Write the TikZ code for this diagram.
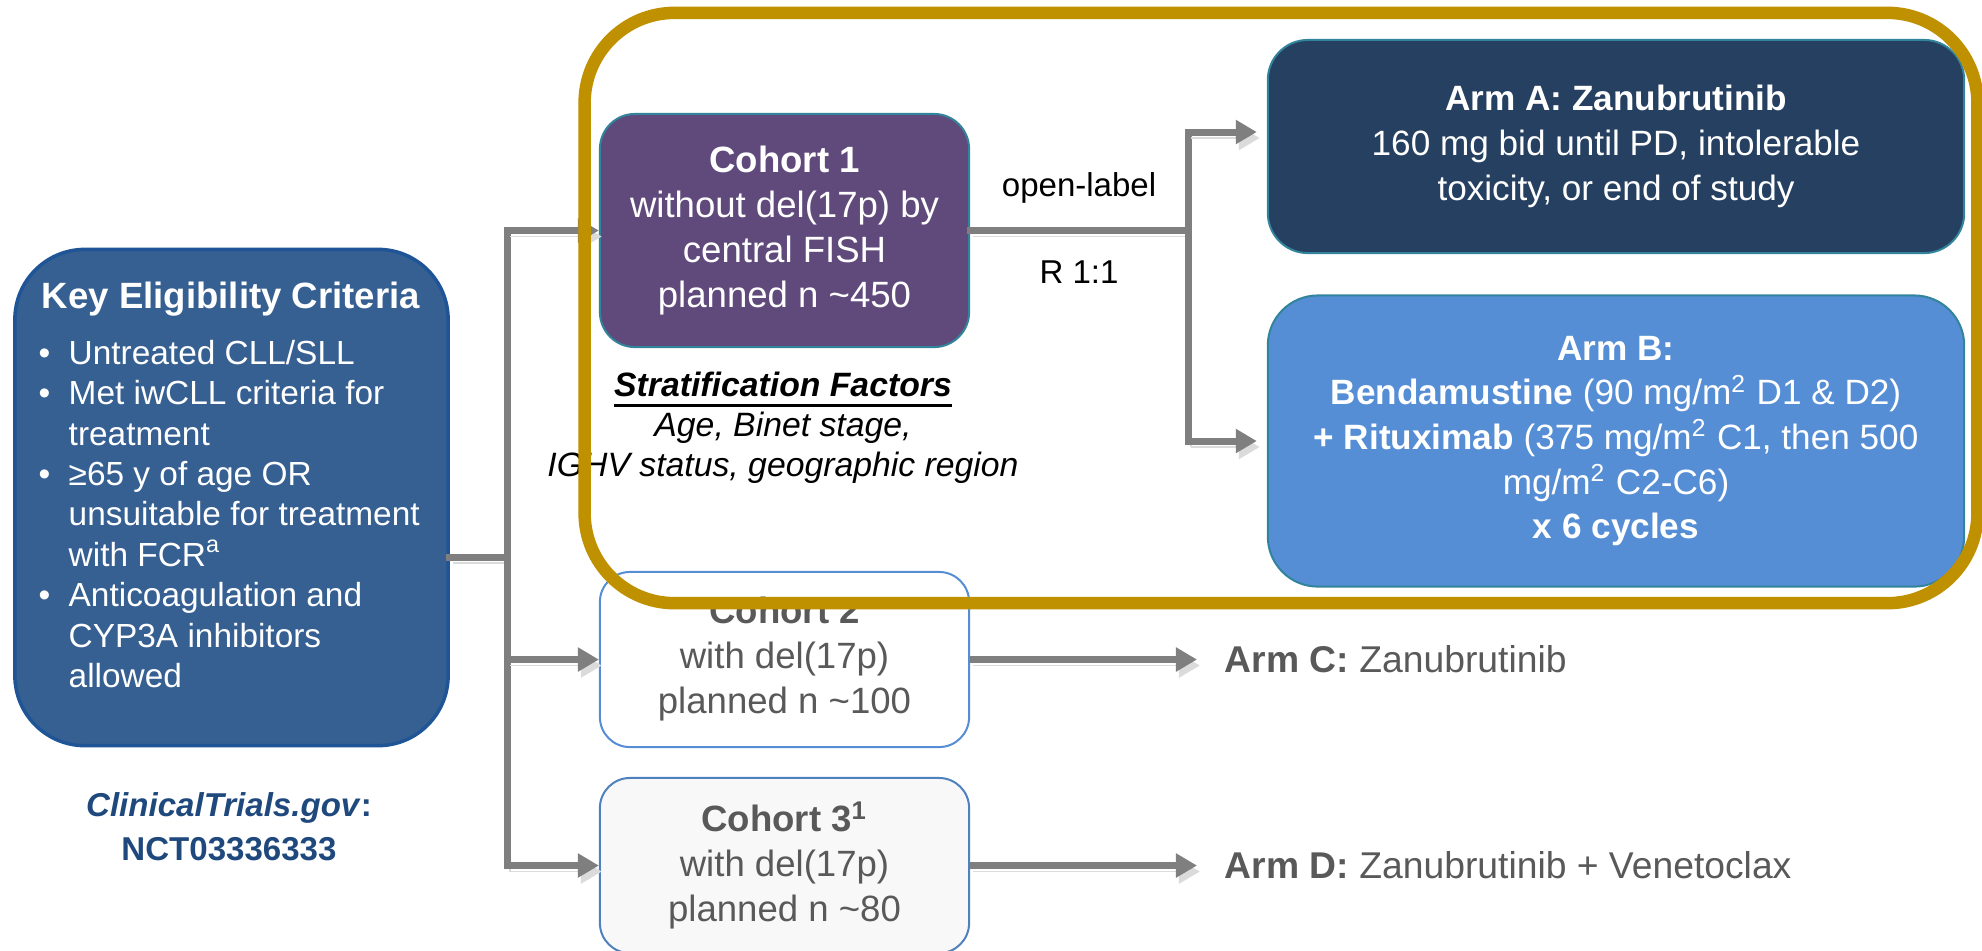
\documentclass[tikz,border=0pt]{standalone}
\usepackage{fontspec}
\setmainfont{Liberation Sans}
\usetikzlibrary{arrows.meta, positioning, calc}
\definecolor{ctKey}{HTML}{366092}
\definecolor{ctKeyEdge}{HTML}{1F5596}
\definecolor{ctPurple}{HTML}{604A7B}
\definecolor{ctNavy}{HTML}{264061}
\definecolor{ctBlue}{HTML}{558ED5}
\definecolor{ctTeal}{HTML}{31849B}
\definecolor{ctEdge}{HTML}{558ED5}
\definecolor{ctEdgeB}{HTML}{4F81BD}
\definecolor{ctPale}{HTML}{F8F8F8}
\definecolor{ctGold}{HTML}{BF9000}
\definecolor{ctLine}{HTML}{7F7F7F}
\definecolor{ctText}{HTML}{595959}
\definecolor{ctTrial}{HTML}{1F497D}
\newsavebox{\ctbox}
\newcommand{\ctuline}[1]{\sbox{\ctbox}{#1}\rlap{\rule[-1.05mm]{\wd\ctbox}{0.35mm}}\usebox{\ctbox}}
\newcommand{\ctbul}{\makebox[0.3cm][l]{\textbullet}}
\newcommand{\ctgap}{\hspace*{0.3cm}}
\tikzset{
  panel/.style={
    rounded corners=0.35cm, align=center, inner sep=0pt,
    line width=0.2mm, font=\fontsize{10.4pt}{12.8pt}\selectfont
  },
  keybox/.style={panel, draw=ctKeyEdge, fill=ctKey, line width=0.35mm,
    rounded corners=0.7cm, minimum width=4.33cm, minimum height=4.96cm},
  cohortA/.style={panel, draw=ctTeal, fill=ctPurple, text=white,
    minimum width=3.69cm, minimum height=2.33cm},
  cohortB/.style={panel, draw=ctEdge, fill=white, text=ctText,
    rounded corners=0.3cm, minimum width=3.69cm, minimum height=1.75cm},
  cohortC/.style={cohortB, draw=ctEdgeB, fill=ctPale},
  arm/.style={panel, draw=ctTeal, text=white, minimum width=6.96cm,
    font=\fontsize{10pt}{12.7pt}\selectfont},
  armdark/.style={arm, fill=ctNavy, rounded corners=0.4cm, minimum height=2.13cm},
  armlight/.style={arm, fill=ctBlue, rounded corners=0.5cm, minimum height=2.91cm},
  goldring/.style={draw=ctGold, line width=1.25mm, rounded corners=0.9cm,
    minimum width=13.92cm, minimum height=5.90cm, inner sep=0pt},
  shade/.style={preaction={draw=black!14, transform canvas={shift={(0.3mm,-0.6mm)}}}},
  flow/.style={-{Triangle[length=2.1mm, width=2.3mm]}, line width=0.7mm, draw=ctLine, shade},
  link/.style={line width=0.7mm, draw=ctLine, line cap=rect, shade},
  lbl/.style={font=\fontsize{9.4pt}{11.4pt}\selectfont, inner sep=0pt, align=center},
}

\begin{document}
\begin{tikzpicture}[x=0.01cm, y=-0.01cm]
  \useasboundingbox (0,0) rectangle (1982,950);

  % eligibility
  \node[keybox] (elig) at (231.5,497.5) {};
  \node[lbl, text=white, font=\bfseries\fontsize{10.4pt}{12pt}\selectfont]
    (eligtitle) at (231,299) {Key Eligibility Criteria};
  \node[lbl, anchor=west, align=left, text=white,
    font=\fontsize{9.5pt}{11.5pt}\selectfont] (eliglist) at (38,514)
    {\ctbul Untreated CLL/SLL\\
     \ctbul Met iwCLL criteria for\\
     \ctgap treatment\\
     \ctbul ≥65 y of age OR\\
     \ctgap unsuitable for treatment\\
     \ctgap with FCR\textsuperscript{a}\\
     \ctbul Anticoagulation and\\
     \ctgap CYP3A inhibitors\\
     \ctgap allowed};
  \node[lbl, text=ctTrial, font=\bfseries\fontsize{9.4pt}{12.5pt}\selectfont]
    (trials) at (229,827) {\textit{ClinicalTrials.gov}:\\NCT03336333};

  % cohorts
  \node[cohortA] (coh1) at (784.5,230.5)
    {\textbf{Cohort 1}\\without del(17p) by\\central FISH\\planned n \textasciitilde450};
  \node[lbl, font=\itshape\fontsize{9.6pt}{11.4pt}\selectfont] (strat) at (783,428)
    {\ctuline{\textbf{Stratification Factors}}\\Age, Binet stage,\\IGHV status, geographic region};
  \node[cohortB] (coh2) at (784.5,659.5)
    {\textbf{Cohort 2}\\with del(17p)\\planned n \textasciitilde100};
  \node[cohortC] (coh3) at (784.5,865.5)
    {\textbf{Cohort 3\textsuperscript{1}}\\with del(17p)\\planned n \textasciitilde80};

  % arms
  \node[armdark] (armA) at (1616,146.5)
    {\textbf{Arm A: Zanubrutinib}\\160 mg bid until PD, intolerable\\toxicity, or end of study};
  \node[armlight] (armB) at (1616,441)
    {\textbf{Arm B:}\\
     \textbf{Bendamustine} (90 mg/m\textsuperscript{2} D1 \& D2)\\
     \textbf{+ Rituximab} (375 mg/m\textsuperscript{2} C1, then 500\\
     mg/m\textsuperscript{2} C2-C6)\\
     \textbf{x 6 cycles}};
  \node[lbl, anchor=west, text=ctText, font=\fontsize{10.6pt}{12pt}\selectfont]
    (armC) at (1224,659.5) {\textbf{Arm C:} Zanubrutinib};
  \node[lbl, anchor=west, text=ctText, font=\fontsize{10.6pt}{12pt}\selectfont]
    (armD) at (1224,865.5) {\textbf{Arm D:} Zanubrutinib + Venetoclax};

  % connectors
  \coordinate (trunk) at (507,557);
  \coordinate (fork) at (1188,230.5);
  \coordinate (armAin) at (armA.west |- 0,132);
  \draw[link] (elig.east |- trunk) -- (trunk);
  \draw[link] (trunk |- coh1.west) -- (trunk |- coh3.west);
  \draw[flow] (trunk |- coh1.west) -- (coh1.west);
  \draw[flow] (trunk |- coh2.west) -- (coh2.west);
  \draw[flow] (trunk |- coh3.west) -- (coh3.west);
  \draw[link] (coh1.east) -- (fork)
    node[lbl, midway, above=2.4mm] (openlbl) {open-label}
    node[lbl, midway, below=2.7mm] (ratio) {R 1:1};
  \draw[link] (fork |- armAin) -- (fork |- armB.west);
  \draw[flow, shorten >=1mm] (fork |- armAin) -- (armAin);
  \draw[flow, shorten >=1mm] (fork |- armB.west) -- (armB.west);
  \draw[flow, shorten >=2.7mm] (coh2.east) -- (armC.west);
  \draw[flow, shorten >=2.7mm] (coh3.east) -- (armD.west);

  % randomised part
  \node[goldring] (cohortframe) at (1281,308) {};
\end{tikzpicture}
\end{document}
